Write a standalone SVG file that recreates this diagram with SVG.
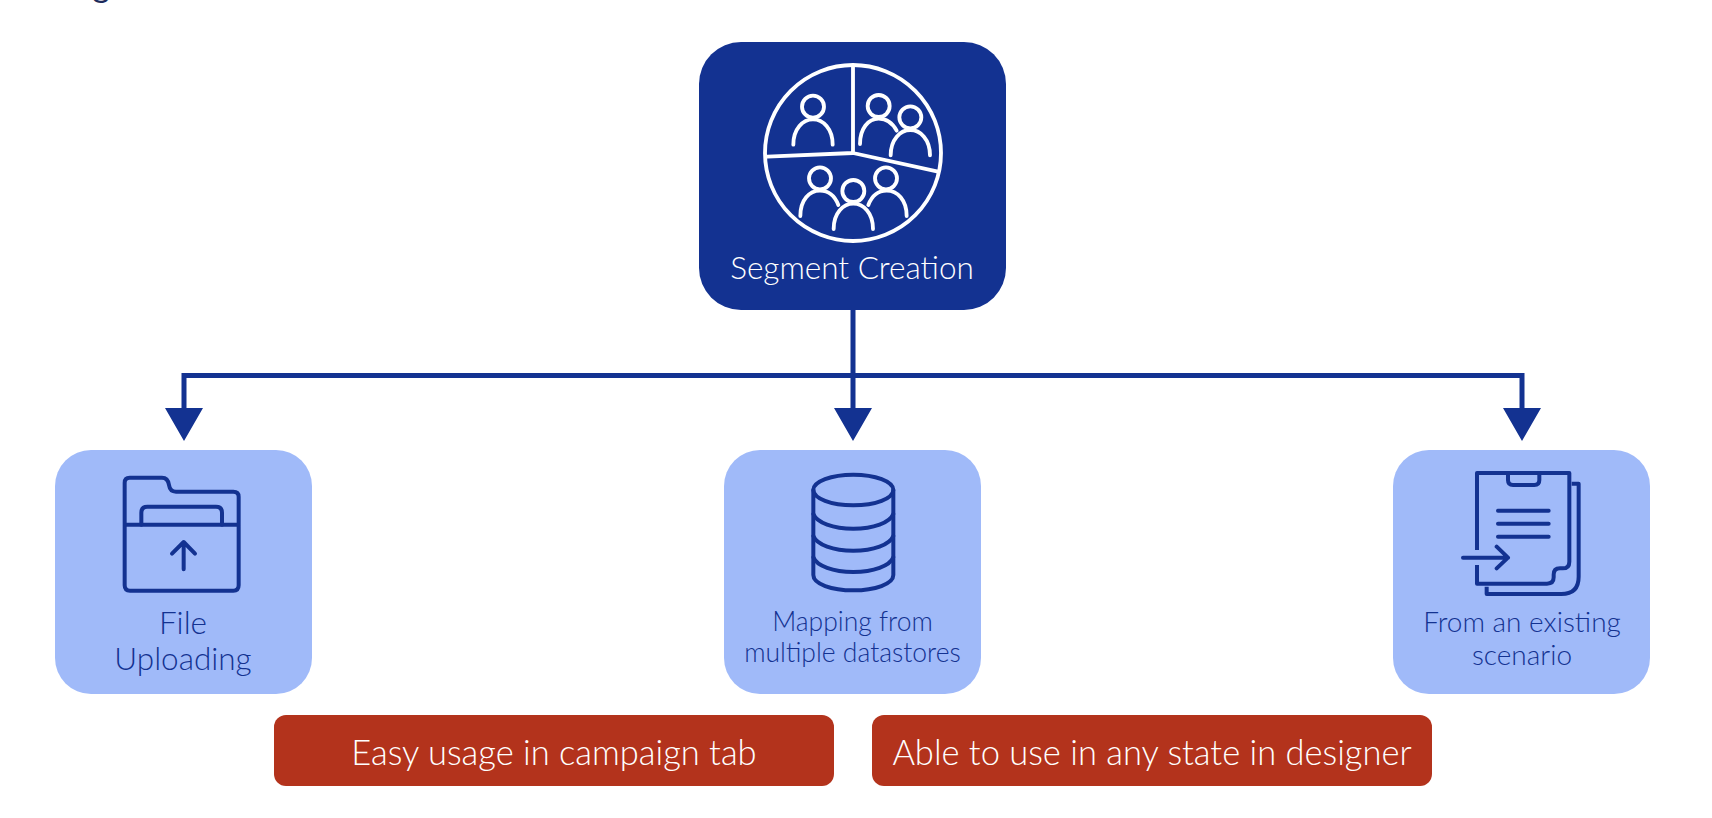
<svg xmlns="http://www.w3.org/2000/svg" width="1712" height="818" viewBox="0 0 1712 818">
<style>
text{font-family:"Lato","Open Sans","Liberation Sans",sans-serif;text-anchor:middle;font-weight:300}
.ic{fill:none;stroke-linecap:round;stroke-linejoin:round}
.w{stroke:#fff;stroke-width:11.500}
.b{stroke:#133291;stroke-width:12}
.light{fill:#a0baf9}
.red{fill:#b3331c}
.lab{fill:#133291;font-size:26px}
.wt{fill:#fff;font-size:34.500px}
.conn{fill:none;stroke:#133291;stroke-width:5}
</style>
<defs>
<g id="person"><circle cx="0" cy="0" r="33"/><path d="M-59 114C-59 66-30 38 0 38S59 66 59 114"/></g>
</defs>
<rect width="1712" height="818" fill="#fff"/>
<text id="cut-title" x="101" y="-3" style="font-size:34px;fill:#1d2b5c;font-weight:400">g</text>
<g id="connectors">
<path class="conn" d="M853 310V412M184 412V375.500H1522V412"/>
<path fill="#133291" d="M165 408H203L184 441ZM834 408H872L853 441ZM1503 408H1541L1522 441Z"/>
</g>
<g id="segment-creation">
<rect x="699" y="42" width="307" height="268" rx="42" fill="#133291"/>
<g class="ic w" transform="translate(690 30) scale(.33333)">
<circle cx="489" cy="369" r="264"/>
<path d="M489 108V369L232 380M489 369L744 425"/>
<use href="#person" x="369" y="230"/>
<circle cx="566" cy="228" r="33"/><path d="M510 342C510 295 535 266 566 266C590 266 608 280 620 302"/>
<use href="#person" x="661" y="262"/>
<circle cx="390" cy="445" r="33"/><path d="M331 558C331 510 358 482 390 482C414 482 434 497 445 525"/>
<use href="#person" x="490" y="483"/>
<circle cx="588" cy="445" r="33"/><path d="M535 525C546 497 565 482 590 482C622 482 650 510 650 558"/>
</g>
<text x="852" y="279" style="font-size:31.500px;fill:#fff">Segment Creation</text>
</g>
<g id="file-uploading">
<rect class="light" x="55" y="450" width="257" height="244" rx="36"/>
<g class="ic b" transform="translate(40 440) scale(.33333)">
<path d="M254 254V128Q254 113 269 113H366Q384 113 387 135Q390 155 408 155H580Q596 155 596 170V436Q596 452 580 452H270Q254 452 254 436V254H596"/>
<path d="M304 254V218Q304 200 322 200H528Q546 200 546 218V254"/>
<path d="M431 388V306M396 341L431 306L465 341"/>
</g>
<text class="lab" x="183" y="634" style="font-size:31.500px">File</text>
<text class="lab" x="183" y="670" style="font-size:31.500px">Uploading</text>
</g>
<g id="mapping-datastores">
<rect class="light" x="724" y="450" width="257" height="244" rx="36"/>
<g class="ic b" transform="translate(710 440) scale(.33333)">
<ellipse cx="430" cy="150" rx="120" ry="46"/>
<path d="M310 150V405C310 432 365 451 430 451S550 432 550 405V150"/>
<path d="M310 222C320 248 370 266 430 266S540 248 550 222M310 288C320 314 370 332 430 332S540 314 550 288M310 352C320 378 370 396 430 396S540 378 550 352"/>
</g>
<text class="lab" x="852.500" y="631" style="font-size:26.500px">Mapping from</text>
<text class="lab" x="852.500" y="662" style="font-size:26.500px">multiple datastores</text>
</g>
<g id="existing-scenario">
<rect class="light" x="1393" y="450" width="257" height="244" rx="36"/>
<g class="ic b" transform="translate(1380 440) scale(.33333)" style="stroke-linecap:butt">
<path d="M291 330V99H568V365Q568 385 548 385H540Q521 385 521 404V412Q521 431 501 431H291V375"/>
<path d="M384 99V120Q384 135 399 135H463Q478 135 478 120V99"/>
<path d="M575 131H596V410Q596 462 544 462H320V440"/>
<path style="stroke-linecap:round" d="M354 212H506M354 251H506M354 290H506M249 353H384M350 320L384 353L350 385"/>
</g>
<text class="lab" x="1522" y="632" style="font-size:28px">From an existing</text>
<text class="lab" x="1522" y="665" style="font-size:28px">scenario</text>
</g>
<g id="note-campaign">
<rect class="red" x="274" y="715" width="560" height="71" rx="12"/>
<text class="wt" x="554" y="765">Easy usage in campaign tab</text>
</g>
<g id="note-designer">
<rect class="red" x="872" y="715" width="560" height="71" rx="12"/>
<text class="wt" x="1152" y="765">Able to use in any state in designer</text>
</g>
</svg>
